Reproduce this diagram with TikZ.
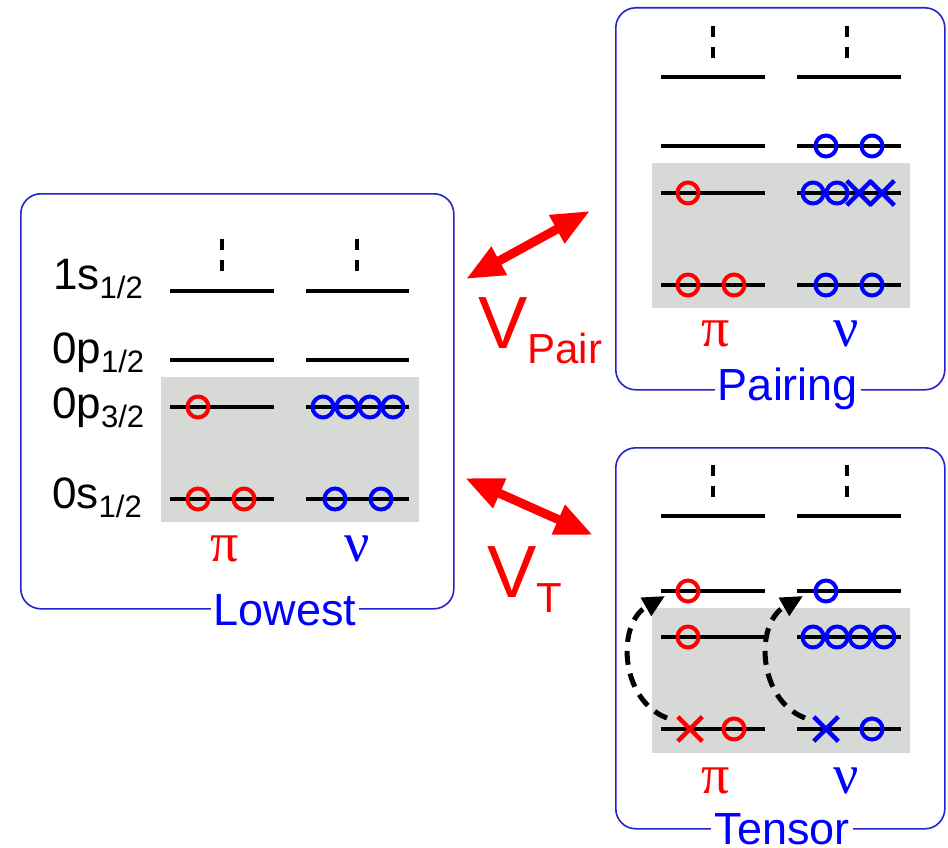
\documentclass[tikz,border=0pt]{standalone}
\usepackage{fontspec}
\setmainfont{Liberation Sans}
\newfontfamily\grk{Liberation Serif}
\usetikzlibrary{arrows.meta,positioning,calc,shapes.misc}

\definecolor{boxblue}{RGB}{36,36,200}
\definecolor{coregray}{RGB}{214,217,214}
\newcommand{\lvsub}[1]{\raisebox{-9pt}{\fontsize{31}{31}\selectfont #1}}
\newcommand{\vsub}[1]{\raisebox{-15pt}{\fontsize{42}{42}\selectfont #1}}

\begin{document}
\begin{tikzpicture}[
  x=1pt, y=-1pt,
  frame/.style={
    draw=boxblue, line width=1.6pt, rounded corners=20pt,
    anchor=north west, inner sep=0pt
  },
  core/.style={fill=coregray},
  lvl/.style={line width=3.4pt},
  gap/.style={line width=4.5pt, dash pattern=on 11pt off 10pt},
  orb/.style={circle, draw=#1, line width=4pt, minimum size=21pt, inner sep=0pt},
  hole/.style={cross out, draw=#1, line width=4.5pt, minimum size=20pt, inner sep=0pt},
  ttl/.style={
    fill=white, text=blue, inner xsep=3pt, inner ysep=1pt, anchor=base,
    font=\fontsize{45}{45}\selectfont
  },
  nm/.style={anchor=base west, inner sep=0pt, font=\fontsize{44}{44}\selectfont},
  grl/.style={anchor=base, inner sep=0pt, text=#1, font=\grk\fontsize{56}{56}\selectfont},
  vlab/.style={anchor=base west, inner sep=0pt, text=red, font=\fontsize{74}{74}\selectfont},
  dbl/.style={
    {Triangle[length=38pt,width=30pt]}-{Triangle[length=38pt,width=30pt]},
    line width=9pt, red
  },
  jump/.style={
    -{Triangle[length=22pt,width=20pt]}, line width=5pt,
    dash pattern=on 14pt off 9pt
  },
]
\useasboundingbox (0,0) rectangle (948,848);

%% Lowest configuration
\node[frame, minimum width=433pt, minimum height=415pt] (lowbox) at (20,193) {};
\fill[core] (161,377) rectangle (419,522);
\foreach \y in {291,360,407,499} {
  \draw[lvl] (170,\y) -- ++(104,0);
  \draw[lvl] (306,\y) -- ++(103,0);
}
\draw[gap] (222,239) -- (222,273);
\draw[gap] (357,239) -- (357,273);

\node[nm] (l1s)  at (53,289) {1s\lvsub{1/2}};
\node[nm] (l0p1) at (52,363) {0p\lvsub{1/2}};
\node[nm] (l0p3) at (52,418) {0p\lvsub{3/2}};
\node[nm] (l0s)  at (52,508) {0s\lvsub{1/2}};

\node[orb=red] (lp1) at (198,407) {};
\node[orb=red] (lp2) at (198,499) {};
\node[orb=red] (lp3) at (244,499) {};
\node[orb=blue] (ln1) at (323,407) {};
\node[orb=blue] (ln2) at (347,407) {};
\node[orb=blue] (ln3) at (370,407) {};
\node[orb=blue] (ln4) at (393,407) {};
\node[orb=blue] (ln5) at (335,499) {};
\node[orb=blue] (ln6) at (381,499) {};

\node[grl=red]  (lpi) at (225,561) {π};
\node[grl=blue] (lnu) at (357,561) {ν};
\node[ttl] (lowt) at (285,625) {Lowest};

%% Pairing configuration
\node[frame, minimum width=329pt, minimum height=382pt] (pairbox) at (615,7) {};
\fill[core] (652,163) rectangle (910,308);
\foreach \y in {77,146,193,285} {
  \draw[lvl] (661,\y) -- ++(104,0);
  \draw[lvl] (797,\y) -- ++(104,0);
}
\draw[gap] (713,26) -- (713,60);
\draw[gap] (847,26) -- (847,60);

\node[orb=red] (pp1) at (688,193) {};
\node[orb=red] (pp2) at (688,285) {};
\node[orb=red] (pp3) at (734,285) {};
\node[orb=blue] (pn1) at (826,146) {};
\node[orb=blue] (pn2) at (872,146) {};
\node[orb=blue] (pn3) at (813,193) {};
\node[orb=blue] (pn4) at (837,193) {};
\node[hole=blue] (pn5) at (859,193) {};
\node[hole=blue] (pn6) at (882,193) {};
\node[orb=blue] (pn7) at (826,285) {};
\node[orb=blue] (pn8) at (872,285) {};

\node[grl=red]  (ppi) at (716,346) {π};
\node[grl=blue] (pnu) at (846,346) {ν};
\node[ttl] (pairt) at (788,400) {Pairing};

%% Tensor configuration
\node[frame, minimum width=329pt, minimum height=381pt] (tensbox) at (615,447) {};
\fill[core] (652,608) rectangle (910,753);
\foreach \y in {516,591,637,729} {
  \draw[lvl] (661,\y) -- ++(104,0);
  \draw[lvl] (797,\y) -- ++(104,0);
}
\draw[gap] (713,465) -- (713,499);
\draw[gap] (847,465) -- (847,499);

\node[orb=red] (tp1) at (688,591) {};
\node[orb=red] (tp2) at (688,637) {};
\node[hole=red] (tp3) at (690,729) {};
\node[orb=red] (tp4) at (734,729) {};
\node[orb=blue] (tn1) at (826,591) {};
\node[orb=blue] (tn2) at (813,637) {};
\node[orb=blue] (tn3) at (837,637) {};
\node[orb=blue] (tn4) at (860,637) {};
\node[orb=blue] (tn5) at (884,637) {};
\node[hole=blue] (tn6) at (826,729) {};
\node[orb=blue] (tn7) at (872,729) {};

\node[grl=red]  (tpi) at (716,793) {π};
\node[grl=blue] (tnu) at (846,793) {ν};
\node[ttl] (tenst) at (782,844) {Tensor};

%% excitations across the gap
\coordinate (tpa) at (667,718);
\coordinate (tpb) at (665,596);
\coordinate (tna) at (805,718);
\coordinate (tnb) at (803,596);
\draw[jump] (tpa) .. controls +(-47,-18) and +(-49,28) .. (tpb);
\draw[jump] (tna) .. controls +(-47,-18) and +(-49,28) .. (tnb);

%% interactions
\coordinate (vpa) at (466,279);
\coordinate (vpb) at (590,211);
\coordinate (vta) at (465,478);
\coordinate (vtb) at (593,535);
\draw[dbl] (vpa) -- (vpb);
\draw[dbl] (vta) -- (vtb);

\node[vlab] (vpair) at (478,348) {V\vsub{Pair}};
\node[vlab] (vten)  at (487,597) {V\vsub{T}};
\end{tikzpicture}
\end{document}
